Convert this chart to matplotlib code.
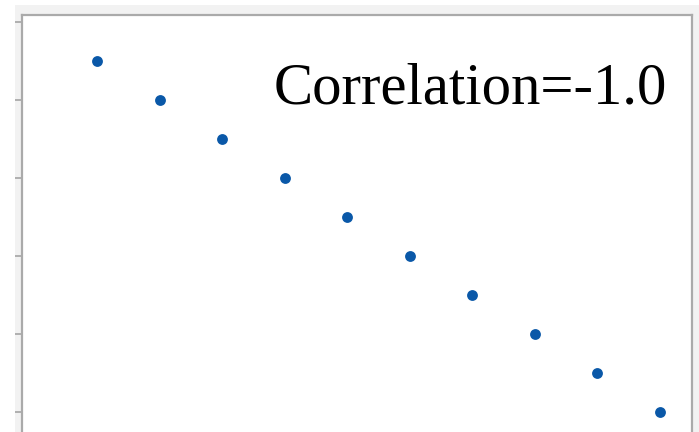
import matplotlib
matplotlib.use("Agg")
import matplotlib.pyplot as plt
from matplotlib.patches import Rectangle

x_values = [1, 2, 3, 4, 5, 6, 7, 8, 9, 10]
y_values = [10, 9, 8, 7, 6, 5, 4, 3, 2, 1]
y_ticks = [1, 3, 5, 7, 9, 11]
label = "Correlation=-1.0"

W, H = 699, 432
fig = plt.figure(figsize=(W / 100, H / 100), dpi=100, facecolor="white")
fig.patches.append(Rectangle((15 / W, 0), 1, 1 - 5 / H, transform=fig.transFigure,
                             facecolor="#f2f2f2", edgecolor="none", zorder=-5))

left, right, top, bottom = 22, 692, 15, 442
ax = fig.add_axes([left / W, 1 - bottom / H, (right - left) / W, (bottom - top) / H])
ax.set_facecolor("white")

px_x = 62.56
px_y = 39.0
ax.set_xlim(1 - (97 - left) / px_x, 1 + (right - 97) / px_x)
ax.set_ylim(1 - (bottom - 412) / px_y, 1 + (412 - top) / px_y)

ax.plot(x_values, y_values, "o", color="#0a58a8", markersize=7.8, markeredgewidth=0)

for s in ax.spines.values():
    s.set_color("#aaaaaa")
    s.set_linewidth(1.6)

ax.set_xticks([])
ax.set_yticks(y_ticks)
ax.set_yticklabels([])
ax.tick_params(axis="y", length=5.2, width=1.3, color="#aaaaaa", direction="out")

ax.text((667 - left) / (right - left), 1 - (104 - top) / (bottom - top), label,
        transform=ax.transAxes, ha="right", va="baseline",
        fontsize=42.3, family="Liberation Serif", color="black")

fig.savefig("out.png", dpi=100, facecolor="white")
